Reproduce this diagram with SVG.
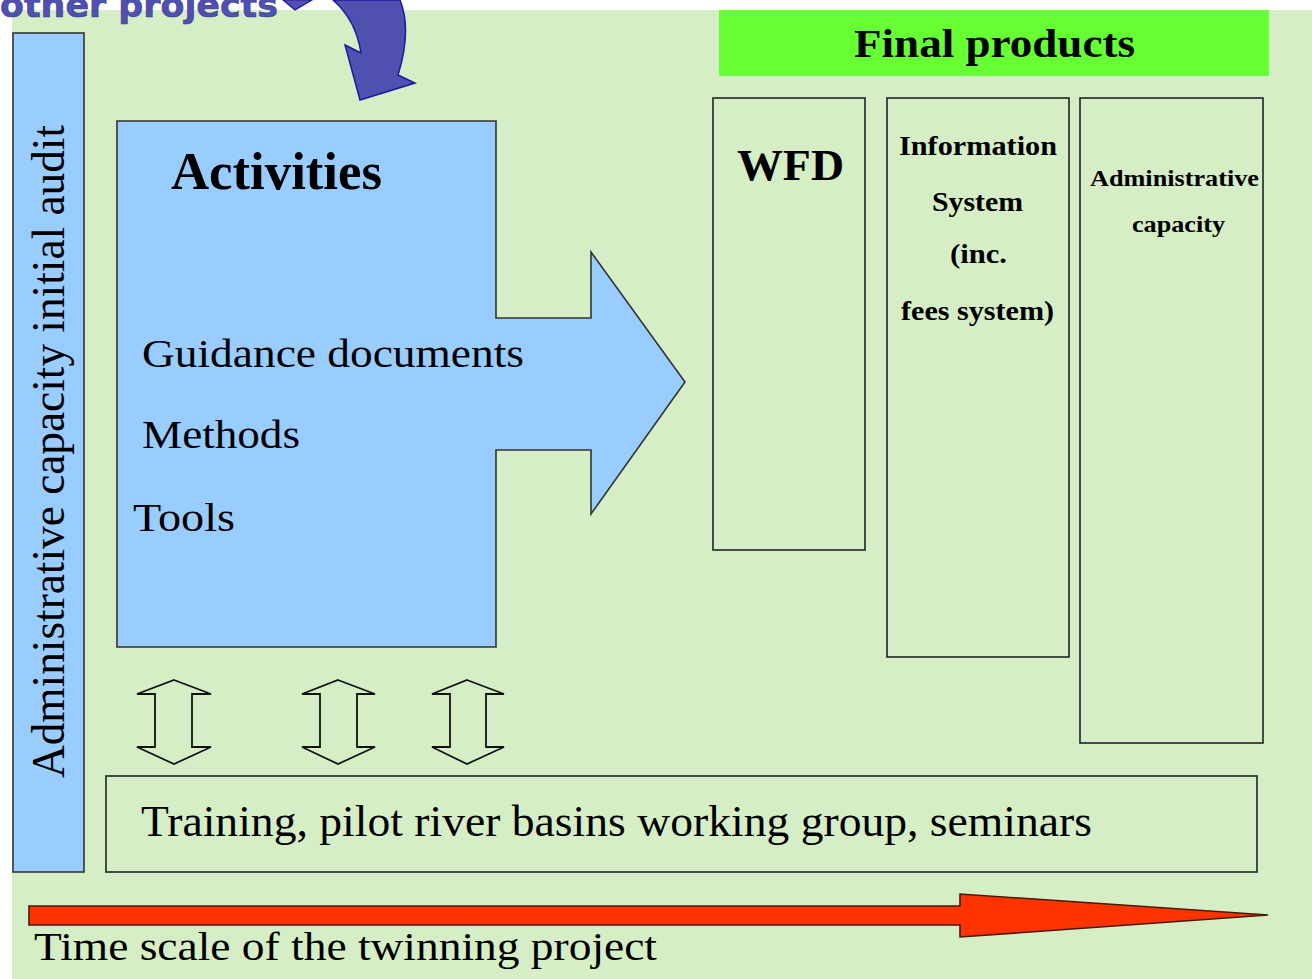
<svg xmlns="http://www.w3.org/2000/svg" width="1312" height="979" viewBox="0 0 1312 979">
  <style>
    .box{fill:none;stroke:#222;stroke-width:1.6}
    .blue{fill:#99ccff;stroke:#333;stroke-width:1.6}
    .serif{font-family:"Liberation Serif","Times New Roman",serif;fill:#000}
    .bold{font-weight:bold}
    .dbl{fill:none;stroke:#111;stroke-width:1.8;stroke-linejoin:miter}
  </style>
  <rect x="0" y="0" width="1312" height="979" fill="#ffffff"/>
  <rect x="12" y="10" width="1300" height="969" fill="#d6eec6"/>

  <g id="other-projects">
    <text x="0" y="17" font-family="'DejaVu Sans',Verdana,sans-serif" font-weight="bold" font-size="34" fill="#5050b0" stroke="#3a3a90" stroke-width="0.6" textLength="278" lengthAdjust="spacingAndGlyphs">other projects</text>
    <polygon points="283,0 295,10 312,0" fill="#5050b0" stroke="#1a1aa0" stroke-width="1.2"/>
    <path d="M333,0 Q356,20 361,53 L345,45 L360,100 L415,83 L398,75 Q412,30 400,0 Z" fill="#5050b0" stroke="#1a1aa0" stroke-width="1.5"/>
  </g>

  <g id="audit-bar">
    <rect x="13" y="33" width="71" height="839" class="blue"/>
    <text class="serif" font-size="46" transform="translate(64,778) rotate(-90)" textLength="653" lengthAdjust="spacingAndGlyphs">Administrative capacity initial audit</text>
  </g>

  <g id="activities">
    <path class="blue" d="M117,121 L496,121 L496,318 L591,318 L591,252 L685,382 L591,514 L591,450 L496,450 L496,647 L117,647 Z"/>
    <text class="serif bold" x="171" y="189" font-size="52" textLength="211" lengthAdjust="spacingAndGlyphs">Activities</text>
    <text class="serif" x="142" y="367" font-size="40" textLength="382" lengthAdjust="spacingAndGlyphs">Guidance documents</text>
    <text class="serif" x="142" y="448" font-size="40" textLength="158" lengthAdjust="spacingAndGlyphs">Methods</text>
    <text class="serif" x="133" y="531" font-size="40" textLength="102" lengthAdjust="spacingAndGlyphs">Tools</text>
  </g>

  <g id="final-products">
    <rect x="719" y="10" width="550" height="66" fill="#66ff33"/>
    <text class="serif bold" x="854" y="57" font-size="40" textLength="281" lengthAdjust="spacingAndGlyphs">Final products</text>
  </g>

  <g id="wfd">
    <rect class="box" x="713" y="98" width="152" height="452"/>
    <text class="serif bold" x="737" y="180" font-size="44" textLength="107" lengthAdjust="spacingAndGlyphs">WFD</text>
  </g>

  <g id="information-system">
    <rect class="box" x="887" y="98" width="182" height="559"/>
    <text class="serif bold" x="899" y="155" font-size="27" textLength="158" lengthAdjust="spacingAndGlyphs">Information</text>
    <text class="serif bold" x="932" y="211" font-size="27" textLength="91" lengthAdjust="spacingAndGlyphs">System</text>
    <text class="serif bold" x="950" y="263" font-size="27" textLength="57" lengthAdjust="spacingAndGlyphs">(inc.</text>
    <text class="serif bold" x="901" y="320" font-size="27" textLength="153" lengthAdjust="spacingAndGlyphs">fees system)</text>
  </g>

  <g id="administrative-capacity">
    <rect class="box" x="1080" y="98" width="183" height="645"/>
    <text class="serif bold" x="1090" y="186" font-size="24" textLength="169" lengthAdjust="spacingAndGlyphs">Administrative</text>
    <text class="serif bold" x="1132" y="232" font-size="24" textLength="93" lengthAdjust="spacingAndGlyphs">capacity</text>
  </g>

  <g id="training">
    <rect class="box" x="106" y="776" width="1151" height="96"/>
    <text class="serif" x="141" y="836" font-size="44" textLength="951" lengthAdjust="spacingAndGlyphs">Training, pilot river basins working group, seminars</text>
  </g>

  <g id="connectors">
    <path class="dbl" d="M174,680 L211,694 L192,694 L192,747 L211,747 L174,764 L137,747 L155,747 L155,694 L137,694 Z"/>
    <path class="dbl" d="M338,680 L375,694 L357,694 L357,747 L375,747 L338,764 L302,747 L320,747 L320,694 L302,694 Z"/>
    <path class="dbl" d="M467,680 L504,694 L486,694 L486,747 L504,747 L467,764 L432,747 L450,747 L450,694 L432,694 Z"/>
  </g>

  <g id="timescale">
    <path d="M29,906 L960,906 L960,894 L1268,915 L960,937 L960,925 L29,925 Z" fill="#ff3300" stroke="#4a1a00" stroke-width="1.6"/>
    <text class="serif" x="34" y="960" font-size="40" textLength="623" lengthAdjust="spacingAndGlyphs">Time scale of the twinning project</text>
  </g>
</svg>
